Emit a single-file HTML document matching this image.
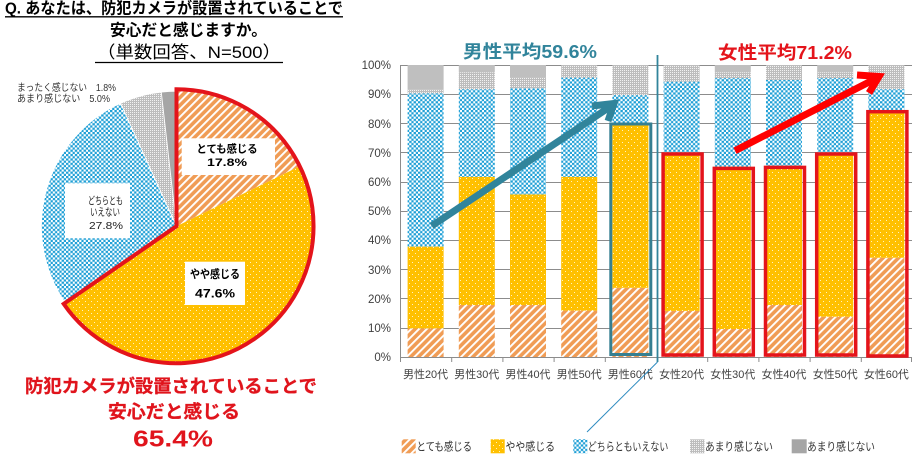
<!DOCTYPE html>
<html><head><meta charset="utf-8"><style>
html,body{margin:0;padding:0;background:#fff;}
svg{display:block;font-family:"Liberation Sans","Noto Sans CJK JP",sans-serif;}
</style></head><body>
<svg width="920" height="458" viewBox="0 0 920 458" xmlns="http://www.w3.org/2000/svg">
<defs>
<pattern id="hatch" width="5.5" height="5.5" patternUnits="userSpaceOnUse" patternTransform="rotate(45)"><rect width="5.5" height="5.5" fill="#f09c55"/><rect width="1.9" height="5.5" fill="#fff"/></pattern>
<pattern id="ydot" width="6" height="6" patternUnits="userSpaceOnUse"><rect width="6" height="6" fill="#ffc000"/><rect x="1" y="1" width="1" height="1" fill="#fff3c0"/><rect x="4" y="4" width="1" height="1" fill="#fff3c0"/></pattern>
<pattern id="blue" width="4.4" height="4.4" patternUnits="userSpaceOnUse"><rect width="4.4" height="4.4" fill="#fff"/><rect x="0" y="0" width="2.4" height="2.2" fill="#1e9fd6"/><rect x="2.2" y="2.2" width="2.4" height="2.2" fill="#1e9fd6"/></pattern>
<pattern id="gdot" width="2" height="2" patternUnits="userSpaceOnUse"><rect width="2" height="2" fill="#bdbdbd"/><rect x="0" y="0" width="1" height="1" fill="#f2f2f2"/></pattern>
</defs>

<!-- Title -->
<text x="5" y="13.5" font-size="16" font-weight="bold" fill="#000" textLength="338" lengthAdjust="spacingAndGlyphs">Q. あなたは、防犯カメラが設置されていることで</text>
<line x1="5" y1="16.8" x2="343" y2="16.8" stroke="#000" stroke-width="1.3"/>
<text x="110" y="35.5" font-size="16" font-weight="bold" fill="#000" textLength="157" lengthAdjust="spacingAndGlyphs">安心だと感じますか。</text>
<text x="97" y="58" font-size="17" fill="#000" textLength="184" lengthAdjust="spacingAndGlyphs">（単数回答、N=500）</text>
<line x1="95" y1="62.5" x2="283" y2="62.5" stroke="#000" stroke-width="1.2"/>

<!-- Pie outer labels -->
<text x="17" y="91" font-size="10" fill="#333" textLength="99" lengthAdjust="spacingAndGlyphs">まったく感じない　1.8%</text>
<text x="17" y="102" font-size="10" fill="#333" textLength="93" lengthAdjust="spacingAndGlyphs">あまり感じない　5.0%</text>

<!-- Pie -->
<path d="M176.5,226.2 L65.3,302.8 A135,135 0 0,1 120.6,103.3 Z" fill="url(#blue)" stroke="#fff" stroke-width="0.8"/>
<path d="M176.5,226.2 L120.6,103.3 A135,135 0 0,1 161.3,92.1 Z" fill="url(#gdot)" stroke="#fff" stroke-width="0.8"/>
<path d="M176.5,226.2 L161.3,92.1 A135,135 0 0,1 176.5,91.2 Z" fill="#a6a6a6" stroke="#fff" stroke-width="0.8"/>
<path d="M176.5,226.2 L176.5,89.2 A137,137 0 0,1 299.7,166.3 Z" fill="url(#hatch)"/>
<path d="M176.5,226.2 L299.7,166.3 A137,137 0 0,1 63.7,303.9 Z" fill="url(#ydot)"/>
<path d="M176.5,226.2 L176.5,89.2 A137,137 0 1,1 63.7,303.9 Z" fill="none" stroke="#e4141b" stroke-width="4"/>

<!-- Pie labels -->
<rect x="181.7" y="138.3" width="93.3" height="36.7" fill="#fff"/>
<text x="227" y="152.5" font-size="11" font-weight="bold" fill="#000" text-anchor="middle" textLength="61" lengthAdjust="spacingAndGlyphs">とても感じる</text>
<text x="227" y="166" font-size="11" font-weight="bold" fill="#000" text-anchor="middle" textLength="40" lengthAdjust="spacingAndGlyphs">17.8%</text>
<rect x="65" y="183.3" width="65" height="55" fill="#fff"/>
<text x="105.5" y="204" font-size="10.5" fill="#222" text-anchor="middle" textLength="35" lengthAdjust="spacingAndGlyphs">どちらとも</text>
<text x="105" y="215.5" font-size="10.5" fill="#222" text-anchor="middle" textLength="30" lengthAdjust="spacingAndGlyphs">いえない</text>
<text x="106" y="229" font-size="10.5" fill="#222" text-anchor="middle" textLength="34" lengthAdjust="spacingAndGlyphs">27.8%</text>
<rect x="185" y="261.7" width="60" height="43.3" fill="#fff"/>
<text x="215" y="278" font-size="11.5" font-weight="bold" fill="#000" text-anchor="middle" textLength="50" lengthAdjust="spacingAndGlyphs">やや感じる</text>
<text x="215" y="297.5" font-size="11.5" font-weight="bold" fill="#000" text-anchor="middle" textLength="40" lengthAdjust="spacingAndGlyphs">47.6%</text>

<!-- Bottom red text -->
<text x="171" y="392.5" font-size="18" font-weight="bold" fill="#e0141c" stroke="#e0141c" stroke-width="0.3" text-anchor="middle" textLength="292" lengthAdjust="spacingAndGlyphs">防犯カメラが設置されていることで</text>
<text x="174" y="418" font-size="18" font-weight="bold" fill="#e0141c" stroke="#e0141c" stroke-width="0.3" text-anchor="middle" textLength="132" lengthAdjust="spacingAndGlyphs">安心だと感じる</text>
<text x="173" y="446.7" font-size="23" font-weight="bold" fill="#e0141c" text-anchor="middle" textLength="80" lengthAdjust="spacingAndGlyphs">65.4%</text>

<!-- Bar chart grid -->
<g stroke="#8c8c8c" stroke-width="1">
<line x1="400" y1="65.5" x2="912" y2="65.5"/>
<line x1="400" y1="94.5" x2="912" y2="94.5"/>
<line x1="400" y1="123.5" x2="912" y2="123.5"/>
<line x1="400" y1="152.5" x2="912" y2="152.5"/>
<line x1="400" y1="182.5" x2="912" y2="182.5"/>
<line x1="400" y1="211.5" x2="912" y2="211.5"/>
<line x1="400" y1="240.5" x2="912" y2="240.5"/>
<line x1="400" y1="269.5" x2="912" y2="269.5"/>
<line x1="400" y1="298.5" x2="912" y2="298.5"/>
<line x1="400" y1="328.5" x2="912" y2="328.5"/>
<line x1="400" y1="357.5" x2="912" y2="357.5"/>
<line x1="400.5" y1="65" x2="400.5" y2="362"/>
<line x1="451.7" y1="357" x2="451.7" y2="362"/>
<line x1="502.9" y1="357" x2="502.9" y2="362"/>
<line x1="554.1" y1="357" x2="554.1" y2="362"/>
<line x1="605.3" y1="357" x2="605.3" y2="362"/>
<line x1="707.7" y1="357" x2="707.7" y2="362"/>
<line x1="758.9" y1="357" x2="758.9" y2="362"/>
<line x1="810.1" y1="357" x2="810.1" y2="362"/>
<line x1="861.3" y1="357" x2="861.3" y2="362"/>
<line x1="911.5" y1="357" x2="911.5" y2="362"/>
</g>

<!-- Y labels -->
<g font-size="11.5" fill="#404040" text-anchor="end">
<text x="391" y="69">100%</text>
<text x="391" y="98">90%</text>
<text x="391" y="128">80%</text>
<text x="391" y="157">70%</text>
<text x="391" y="186">60%</text>
<text x="391" y="215">50%</text>
<text x="391" y="244">40%</text>
<text x="391" y="274">30%</text>
<text x="391" y="303">20%</text>
<text x="391" y="332">10%</text>
<text x="391" y="361">0%</text>
</g>

<!-- Bars -->
<rect x="407.6" y="328.4" width="36" height="28.6" fill="url(#hatch)"/>
<rect x="407.6" y="246.6" width="36" height="81.8" fill="url(#ydot)"/>
<rect x="407.6" y="93.3" width="36" height="153.3" fill="url(#blue)"/>
<rect x="407.6" y="89.8" width="36" height="3.5" fill="url(#gdot)"/>
<rect x="407.6" y="65" width="36" height="24.8" fill="#bfbfbf"/>

<rect x="458.8" y="305" width="36" height="52" fill="url(#hatch)"/>
<rect x="458.8" y="176.8" width="36" height="128.2" fill="url(#ydot)"/>
<rect x="458.8" y="89.2" width="36" height="87.6" fill="url(#blue)"/>
<rect x="458.8" y="72.3" width="36" height="16.9" fill="url(#gdot)"/>
<rect x="458.8" y="65" width="36" height="7.3" fill="#bfbfbf"/>

<rect x="510" y="305" width="36" height="52" fill="url(#hatch)"/>
<rect x="510" y="194.4" width="36" height="110.6" fill="url(#ydot)"/>
<rect x="510" y="88.4" width="36" height="106" fill="url(#blue)"/>
<rect x="510" y="77.6" width="36" height="10.8" fill="url(#gdot)"/>
<rect x="510" y="65" width="36" height="12.6" fill="#bfbfbf"/>

<rect x="561.2" y="310.6" width="36" height="46.4" fill="url(#hatch)"/>
<rect x="561.2" y="176.8" width="36" height="133.8" fill="url(#ydot)"/>
<rect x="561.2" y="77.6" width="36" height="99.2" fill="url(#blue)"/>
<rect x="561.2" y="65" width="36" height="12.6" fill="url(#gdot)"/>

<rect x="612.4" y="287.8" width="36" height="69.2" fill="url(#hatch)"/>
<rect x="612.4" y="124" width="36" height="163.8" fill="url(#ydot)"/>
<rect x="612.4" y="95.1" width="36" height="28.9" fill="url(#blue)"/>
<rect x="612.4" y="65" width="36" height="30.1" fill="url(#gdot)"/>
<rect x="610.8" y="124" width="40" height="230.5" fill="none" stroke="#357f91" stroke-width="3"/>

<rect x="663.6" y="310.9" width="36" height="46.1" fill="url(#hatch)"/>
<rect x="663.6" y="152.3" width="36" height="158.6" fill="url(#ydot)"/>
<rect x="663.6" y="81.6" width="36" height="70.7" fill="url(#blue)"/>
<rect x="663.6" y="65" width="36" height="16.6" fill="url(#gdot)"/>

<rect x="714.8" y="329" width="36" height="28" fill="url(#hatch)"/>
<rect x="714.8" y="166.6" width="36" height="162.4" fill="url(#ydot)"/>
<rect x="714.8" y="78.1" width="36" height="88.5" fill="url(#blue)"/>
<rect x="714.8" y="72.3" width="36" height="5.8" fill="url(#gdot)"/>
<rect x="714.8" y="65" width="36" height="7.3" fill="#bfbfbf"/>

<rect x="766" y="305" width="36" height="52" fill="url(#hatch)"/>
<rect x="766" y="165.7" width="36" height="139.3" fill="url(#ydot)"/>
<rect x="766" y="79.9" width="36" height="85.8" fill="url(#blue)"/>
<rect x="766" y="65" width="36" height="14.9" fill="url(#gdot)"/>

<rect x="817.2" y="316.7" width="36" height="40.3" fill="url(#hatch)"/>
<rect x="817.2" y="152.3" width="36" height="164.4" fill="url(#ydot)"/>
<rect x="817.2" y="78.1" width="36" height="74.2" fill="url(#blue)"/>
<rect x="817.2" y="72.3" width="36" height="5.8" fill="url(#gdot)"/>
<rect x="817.2" y="65" width="36" height="7.3" fill="#bfbfbf"/>

<rect x="868.4" y="257.7" width="36" height="99.3" fill="url(#hatch)"/>
<rect x="868.4" y="111.1" width="36" height="146.6" fill="url(#ydot)"/>
<rect x="868.4" y="89.2" width="36" height="21.9" fill="url(#blue)"/>
<rect x="868.4" y="65" width="36" height="24.2" fill="url(#gdot)"/>

<!-- Red borders -->
<g fill="none" stroke="#e4141b" stroke-width="3.5">
<rect x="663.1" y="154" width="39" height="201"/>
<rect x="714.3" y="168.4" width="39" height="186.6"/>
<rect x="765.5" y="167.4" width="39" height="187.6"/>
<rect x="816.7" y="154" width="39" height="201"/>
<rect x="867.9" y="111.7" width="39" height="244.3"/>
</g>

<!-- X labels -->
<g font-size="11" fill="#404040" text-anchor="middle">
<text x="425.6" y="378" textLength="45" lengthAdjust="spacingAndGlyphs">男性20代</text>
<text x="476.8" y="378" textLength="45" lengthAdjust="spacingAndGlyphs">男性30代</text>
<text x="528" y="378" textLength="45" lengthAdjust="spacingAndGlyphs">男性40代</text>
<text x="579.2" y="378" textLength="45" lengthAdjust="spacingAndGlyphs">男性50代</text>
<text x="630.4" y="378" textLength="45" lengthAdjust="spacingAndGlyphs">男性60代</text>
<text x="681.6" y="378" textLength="45" lengthAdjust="spacingAndGlyphs">女性20代</text>
<text x="732.8" y="378" textLength="45" lengthAdjust="spacingAndGlyphs">女性30代</text>
<text x="784" y="378" textLength="45" lengthAdjust="spacingAndGlyphs">女性40代</text>
<text x="835.2" y="378" textLength="45" lengthAdjust="spacingAndGlyphs">女性50代</text>
<text x="886.4" y="378" textLength="45" lengthAdjust="spacingAndGlyphs">女性60代</text>
</g>

<!-- Divider line -->
<line x1="657.5" y1="55" x2="657.5" y2="362" stroke="#31849b" stroke-width="1.8"/>
<line x1="657.5" y1="362" x2="587" y2="432" stroke="#2e8bc0" stroke-width="1"/>

<!-- Group titles -->
<text x="463" y="58" font-size="18" font-weight="bold" fill="#31849b" textLength="134" lengthAdjust="spacingAndGlyphs">男性平均59.6%</text>
<text x="718" y="59" font-size="18" font-weight="bold" fill="#e4141b" textLength="134" lengthAdjust="spacingAndGlyphs">女性平均71.2%</text>

<!-- Arrows -->
<g stroke="#31849b" stroke-width="7" fill="none" stroke-linecap="butt" stroke-linejoin="miter">
<line x1="431.7" y1="226" x2="612" y2="105.5"/>
<polyline points="592,106 614,103.5 608,121"/>
</g>
<g stroke="#ff0000" stroke-width="7" fill="none" stroke-linecap="butt" stroke-linejoin="miter">
<line x1="735" y1="150.7" x2="877" y2="78"/>
<polyline points="857,75 879,76.5 869,93"/>
</g>

<!-- Legend -->
<rect x="401.7" y="439.3" width="14" height="14" fill="url(#hatch)"/>
<rect x="490.7" y="439.3" width="14" height="14" fill="url(#ydot)"/>
<rect x="573.3" y="439.3" width="14" height="14" fill="url(#blue)"/>
<rect x="690" y="439.3" width="14.5" height="14" fill="url(#gdot)"/>
<rect x="791.7" y="439.3" width="15" height="14" fill="#a6a6a6"/>
<g font-size="11.5" fill="#333">
<text x="416.5" y="450.5" textLength="55.5" lengthAdjust="spacingAndGlyphs">とても感じる</text>
<text x="505.5" y="450.5" textLength="49.5" lengthAdjust="spacingAndGlyphs">やや感じる</text>
<text x="587.8" y="450.5" textLength="80.5" lengthAdjust="spacingAndGlyphs">どちらともいえない</text>
<text x="705" y="450.5" textLength="68" lengthAdjust="spacingAndGlyphs">あまり感じない</text>
<text x="807" y="450.5" textLength="68" lengthAdjust="spacingAndGlyphs">あまり感じない</text>
</g>
</svg>
</body></html>
